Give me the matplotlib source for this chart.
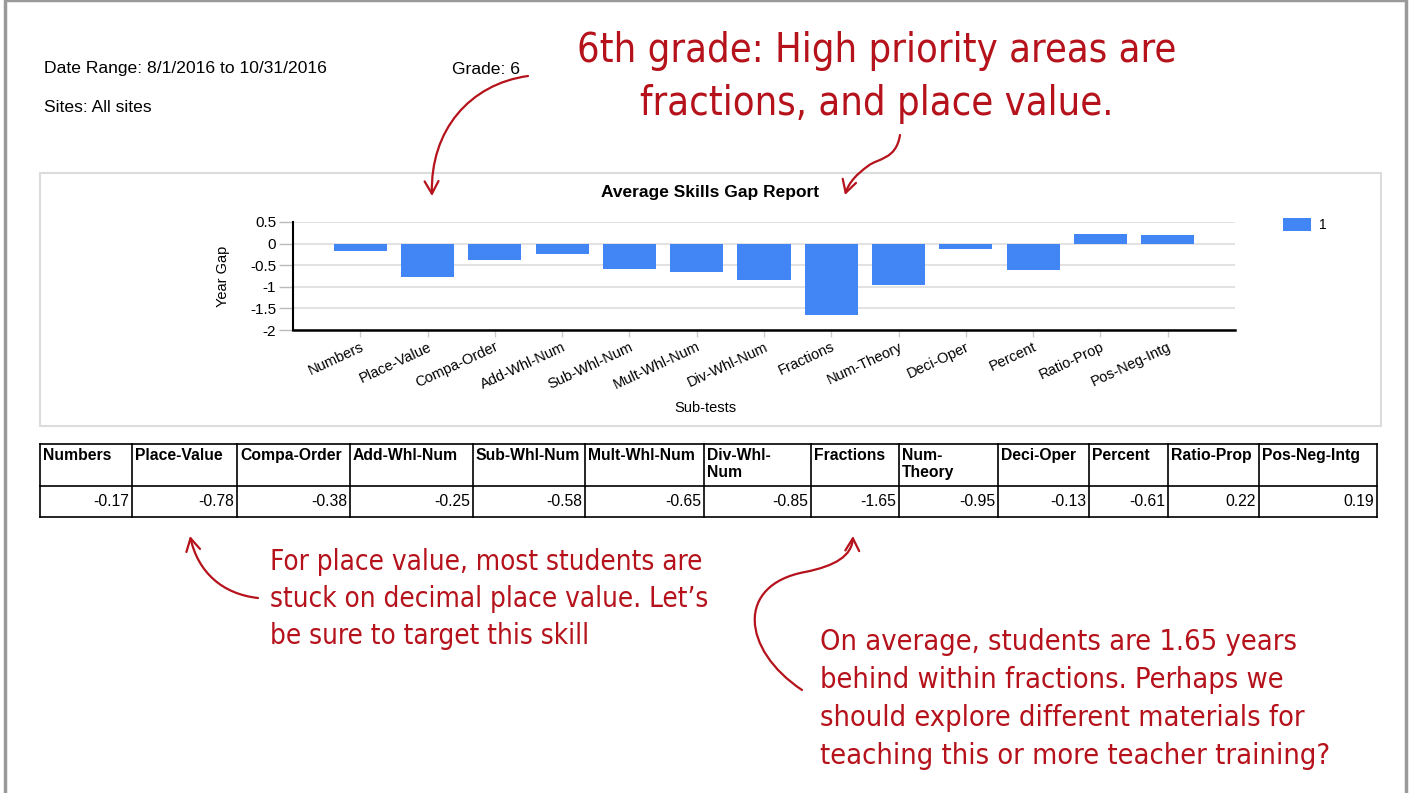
import matplotlib
matplotlib.use('Agg')
import matplotlib.pyplot as plt
from matplotlib.patches import Rectangle, FancyArrowPatch
from matplotlib.lines import Line2D
from matplotlib.path import Path

W, H = 1411, 793

subtests = ['Numbers', 'Place-Value', 'Compa-Order', 'Add-Whl-Num', 'Sub-Whl-Num',
            'Mult-Whl-Num', 'Div-Whl-Num', 'Fractions', 'Num-Theory', 'Deci-Oper',
            'Percent', 'Ratio-Prop', 'Pos-Neg-Intg']
year_gap = [-0.17, -0.78, -0.38, -0.25, -0.58, -0.65, -0.85, -1.65, -0.95, -0.13, -0.61, 0.22, 0.19]
y_ticks = [0.5, 0, -0.5, -1, -1.5, -2]
y_tick_labels = ['0.5', '0', '-0.5', '-1', '-1.5', '-2']

header_lines = ['Date Range: 8/1/2016 to 10/31/2016', 'Sites: All sites']
grade_text = 'Grade: 6'
note_top = ['6th grade: High priority areas are', 'fractions, and place value.']
note_left = ['For place value, most students are', 'stuck on decimal place value. Let\u2019s',
             'be sure to target this skill']
note_right = ['On average, students are 1.65 years', 'behind within fractions. Perhaps we',
              'should explore different materials for', 'teaching this or more teacher training?']

BLUE = '#4285f4'
RED = '#b5121b'
SANS = ['Liberation Sans', 'DejaVu Sans']
HAND = ['DejaVu Sans']

plt.rcParams['font.family'] = SANS


def fx(x):
    return x / W


def fy(y):
    return 1 - y / H


fig = plt.figure(figsize=(W / 100, H / 100), dpi=100)
fig.patch.set_facecolor('white')
renderer = fig.canvas.get_renderer()

# page border and chart frame
fig.patches.append(Rectangle((fx(5), fy(800)), fx(1401), 800 / H, transform=fig.transFigure,
                             fill=False, edgecolor='#9a9a9a', lw=2.5))
fig.patches.append(Rectangle((fx(40), fy(426)), fx(1341), 253 / H, transform=fig.transFigure,
                             fill=False, edgecolor='#dcdcdc', lw=1.5))

# header texts
fig.text(fx(44), fy(69), header_lines[0], fontsize=12.6, va='center')
fig.text(fx(44), fy(108), header_lines[1], fontsize=12.6, va='center')
fig.text(fx(452), fy(69), grade_text, fontsize=12.6, va='center')

# chart
ax = fig.add_axes([fx(293), fy(330), fx(1235 - 293), (330 - 222) / H])
x = range(len(subtests))
ax.bar(x, year_gap, width=0.79, color=BLUE, label='1', zorder=3)
ax.set_xlim(-1, len(subtests))
ax.set_ylim(-2, 0.5)
ax.set_yticks(y_ticks)
ax.set_yticklabels(y_tick_labels, fontsize=11)
ax.set_xticks(list(x))
ax.set_xticklabels(subtests, rotation=25, ha='right', rotation_mode='anchor', fontsize=10.5)
ax.yaxis.grid(True, color='#dddddd', lw=1.2, zorder=0)
for s in ['top', 'right']:
    ax.spines[s].set_visible(False)
ax.spines['left'].set_linewidth(1.5)
ax.spines['bottom'].set_linewidth(1.8)
ax.spines['bottom'].set_zorder(4)
ax.tick_params(axis='y', length=10, color='#bbbbbb', width=1, pad=2)
ax.tick_params(axis='x', length=5, color='#cccccc', width=1, pad=2)
ax.set_xlabel('Sub-tests', fontsize=10.5)
ax.xaxis.set_label_coords(0.5, fy(401), transform=fig.transFigure)
ax.set_ylabel('Year Gap', fontsize=10.5)
ax.yaxis.set_label_coords(fx(230), fy(276), transform=fig.transFigure)
fig.text(fx(710), fy(192), 'Average Skills Gap Report', fontsize=12.5, fontweight='bold',
         ha='center', va='center')

ax.legend(loc='upper left', bbox_to_anchor=(fx(1283), fy(218)), bbox_transform=fig.transFigure,
          frameon=False, fontsize=10, handlelength=2.0, handleheight=1.1, handletextpad=0.6,
          borderpad=0, borderaxespad=0)

# data table
col_edges = [40, 132, 237, 350, 473, 585, 704, 811, 899, 998, 1089, 1168, 1259, 1377]
row_edges = [444, 486, 517]
wrapped = ('Div-Whl-Num', 'Num-Theory')
for yy in row_edges:
    fig.add_artist(Line2D([fx(col_edges[0]), fx(col_edges[-1])], [fy(yy), fy(yy)],
                          transform=fig.transFigure, color='black', lw=1.2))
for xx in col_edges:
    fig.add_artist(Line2D([fx(xx), fx(xx)], [fy(row_edges[0]), fy(row_edges[-1])],
                          transform=fig.transFigure, color='black', lw=1.2))
for i, (name, val) in enumerate(zip(subtests, year_gap)):
    lab = name
    if name in wrapped:
        k = name.rfind('-') + 1
        lab = name[:k] + '\n' + name[k:]
    fig.text(fx(col_edges[i] + 3), fy(448), lab, fontsize=11.3, fontweight='bold',
             va='top', ha='left', linespacing=1.15)
    fig.text(fx(col_edges[i + 1] - 3), fy(501), f'{val:.2f}', fontsize=11.3,
             va='center', ha='right')


# handwritten notes, sized so the widest line spans the same width as in the report
def note(lines, x0, y0, step, width, ha):
    texts = [fig.text(fx(x0), fy(y0 + step * i), s, family=HAND, fontstretch='condensed',
                      color=RED, fontsize=20, ha=ha, va='center') for i, s in enumerate(lines)]
    wmax = max(t.get_window_extent(renderer).width for t in texts)
    for t in texts:
        t.set_fontsize(20 * width / wmax)


note(note_top, 877, 51, 53, 597, 'center')
note(note_left, 270, 562, 37, 438, 'left')
note(note_right, 820, 642, 38, 508, 'left')


def arrow(pts):
    verts = [(fx(px), fy(py)) for px, py in pts]
    codes = [Path.MOVETO] + [Path.CURVE4] * (len(verts) - 1)
    a = FancyArrowPatch(path=Path(verts, codes), transform=fig.transFigure,
                        arrowstyle='->,head_length=9,head_width=5', color=RED, lw=1.6)
    fig.patches.append(a)


arrow([(528, 76), (470, 84), (430, 130), (432, 196)])
arrow([(900, 135), (896, 160), (878, 158), (868, 166), (857, 174), (849, 182), (845, 195)])
arrow([(258, 598), (222, 594), (198, 572), (190, 536)])
arrow([(802, 690), (742, 650), (735, 585), (805, 572), (835, 566), (852, 556), (853, 536)])

fig.savefig('out.png', dpi=100, facecolor='white')
